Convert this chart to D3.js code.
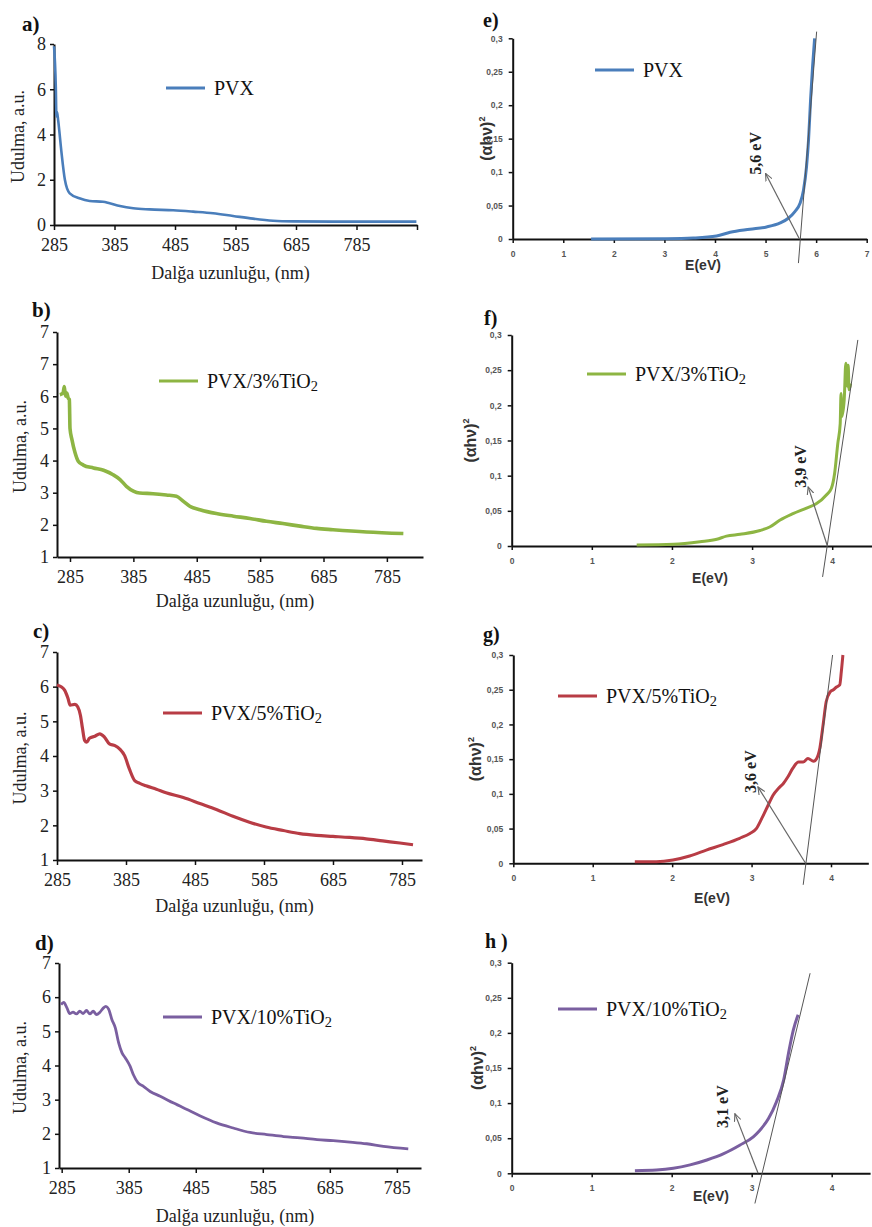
<!DOCTYPE html>
<html>
<head>
<meta charset="utf-8">
<script src="https://cdn.jsdelivr.net/npm/d3@7"></script>
<style>
  body { margin: 0; background: #fff; }
  svg { display: block; background: #fff; }
</style>
</head>
<body>
<script>
// ---- data ----
const sampleNames = ['PVX', 'PVX/3%TiO', 'PVX/5%TiO', 'PVX/10%TiO'];
const sampleSubs = ['', '2', '2', '2'];
const sampleColors = ['#4a7ebb', '#8db543', '#b83c45', '#7a5fa0'];
const uvTicks = [285, 385, 485, 585, 685, 785];

// absorbance spectra (nm, a.u.)
const pvxNm = [285, 288, 289, 290, 292, 297, 303, 311, 327, 344, 366, 377, 394, 416, 443, 482, 515, 548, 581, 614, 647, 680, 746, 884];
const pvxAbs = [7.9, 6.1, 4.8, 5.0, 4.6, 3.3, 2.0, 1.4, 1.18, 1.06, 1.03, 0.96, 0.84, 0.74, 0.69, 0.65, 0.59, 0.52, 0.40, 0.28, 0.19, 0.16, 0.15, 0.15];
const ti3Nm = [269, 274, 276, 278, 280, 282, 284, 285, 288, 293, 298, 306, 322, 338, 353, 364, 374, 385, 395, 416, 437, 453, 464, 474, 490, 516, 543, 569, 595, 621, 648, 674, 700, 753, 811];
const ti3Abs = [6.05, 6.1, 6.3, 6.0, 6.1, 5.95, 5.9, 5.0, 4.66, 4.24, 3.98, 3.86, 3.77, 3.70, 3.56, 3.41, 3.2, 3.05, 2.99, 2.97, 2.93, 2.89, 2.73, 2.58, 2.47, 2.35, 2.27, 2.20, 2.11, 2.04, 1.96, 1.89, 1.85, 1.78, 1.73];
const ti5Nm = [285, 291, 296, 301, 304, 311, 315, 319, 322, 325, 328, 332, 340, 347, 354, 361, 369, 376, 383, 390, 398, 405, 414, 429, 443, 468, 492, 516, 540, 564, 588, 613, 637, 661, 685, 709, 733, 757, 782, 801];
const ti5Abs = [6.05, 6.0, 5.9, 5.66, 5.47, 5.49, 5.42, 5.17, 4.79, 4.45, 4.40, 4.51, 4.57, 4.64, 4.54, 4.35, 4.30, 4.20, 4.01, 3.62, 3.28, 3.21, 3.14, 3.04, 2.94, 2.80, 2.63, 2.46, 2.26, 2.09, 1.95, 1.85, 1.76, 1.71, 1.68, 1.65, 1.61, 1.55, 1.49, 1.44];
const ti10Nm = [284, 288, 293, 297, 302, 307, 312, 317, 322, 327, 332, 337, 342, 347, 351, 355, 360, 365, 370, 375, 380, 387, 392, 399, 407, 417, 432, 452, 472, 491, 516, 541, 566, 591, 616, 641, 666, 690, 715, 740, 765, 802];
const ti10Abs = [5.78, 5.85, 5.68, 5.52, 5.56, 5.51, 5.59, 5.52, 5.61, 5.51, 5.59, 5.49, 5.56, 5.68, 5.73, 5.65, 5.34, 5.10, 4.66, 4.37, 4.22, 3.98, 3.73, 3.49, 3.39, 3.24, 3.10, 2.90, 2.71, 2.53, 2.32, 2.17, 2.04, 1.98, 1.92, 1.88, 1.83, 1.80, 1.76, 1.71, 1.63, 1.56];

// Tauc plots (eV, (ahv)^2)
const pvxE = [1.55, 3.05, 3.57, 4.03, 4.3, 4.69, 5.02, 5.29, 5.45, 5.58, 5.68, 5.75, 5.81, 5.85, 5.89, 5.93, 5.97];
const pvxTauc = [0, 0.0005, 0.0015, 0.0045, 0.010, 0.0145, 0.018, 0.024, 0.031, 0.041, 0.053, 0.073, 0.108, 0.148, 0.208, 0.258, 0.30];
const ti3E = [1.56, 2.02, 2.35, 2.56, 2.68, 2.85, 3.1, 3.22, 3.35, 3.51, 3.68, 3.8, 3.93, 3.99, 4.03, 4.07, 4.10, 4.11, 4.12, 4.15, 4.17, 4.19, 4.2, 4.21, 4.23];
const ti3Tauc = [0.0014, 0.0024, 0.006, 0.0095, 0.014, 0.0166, 0.022, 0.027, 0.037, 0.046, 0.054, 0.060, 0.073, 0.082, 0.103, 0.146, 0.174, 0.217, 0.184, 0.208, 0.26, 0.227, 0.257, 0.222, 0.231];
const ti5E = [1.53, 1.80, 2.01, 2.22, 2.43, 2.64, 2.85, 2.98, 3.06, 3.13, 3.21, 3.27, 3.34, 3.40, 3.46, 3.52, 3.59, 3.65, 3.71, 3.78, 3.82, 3.86, 3.90, 3.94, 3.99, 4.03, 4.07, 4.11, 4.13, 4.15];
const ti5Tauc = [0.0024, 0.0024, 0.0048, 0.0106, 0.019, 0.027, 0.036, 0.043, 0.050, 0.065, 0.084, 0.098, 0.108, 0.115, 0.125, 0.137, 0.146, 0.146, 0.151, 0.147, 0.151, 0.166, 0.199, 0.233, 0.247, 0.25, 0.254, 0.257, 0.276, 0.30];
const ti10E = [1.54, 1.81, 2.02, 2.23, 2.44, 2.65, 2.85, 3.02, 3.10, 3.21, 3.31, 3.40, 3.46, 3.52, 3.58];
const ti10Tauc = [0.0038, 0.0047, 0.0071, 0.012, 0.019, 0.028, 0.040, 0.052, 0.061, 0.078, 0.102, 0.133, 0.171, 0.204, 0.226];

// tangent lines, arrows [E, value] and band gap labels
const tangents = [[[5.65, -0.036], [6.01, 0.31]], [[3.88, -0.044], [4.32, 0.293]], [[3.65, -0.031], [4.02, 0.30]], [[3.04, -0.043], [3.73, 0.285]]];
const arrows = [[[5.67, 0], [5.0, 0.098]], [[3.94, 0], [3.70, 0.084]], [[3.68, 0], [3.08, 0.110]], [[3.08, 0], [2.79, 0.085]]];
const gapLabels = ['5,6 eV', '3,9 eV', '3,6 eV', '3,1 eV'];
const gapLabelPos = [[4.79, 0.128], [3.6, 0.113], [2.98, 0.132], [2.63, 0.095]];
const taucTicks = [0, 0.05, 0.1, 0.15, 0.2, 0.25, 0.3];

const uvX = [pvxNm, ti3Nm, ti5Nm, ti10Nm];
const uvY = [pvxAbs, ti3Abs, ti5Abs, ti10Abs];
const taucX = [pvxE, ti3E, ti5E, ti10E];
const taucY = [pvxTauc, ti3Tauc, ti5Tauc, ti10Tauc];

// ---- layout ----
const uvPanels = [
  {letter: 'a)', lx: 22, ly: 31, left: 54, right: 417, xDom: [285, 885], top: 44, bottom: 225, yDom: [0, 8], yTicks: [0, 2, 4, 6, 8], yLab: null, xEnd: true,
   legX: 166, legY: 88, xlabY: 279, ylabX: 18, curveW: 2.6},
  {letter: 'b)', lx: 32, ly: 317, left: 57, right: 423, xDom: [264.5, 842], top: 332, bottom: 557, yDom: [1, 8], yTicks: [1, 2, 3, 4, 5, 6, 7, 8], yLab: ['1', '2', '3', '4', '5', '6', '7', '7'],
   legX: 159, legY: 381, xlabY: 607, ylabX: 20, curveW: 3.6},
  {letter: 'c)', lx: 33, ly: 638, left: 57, right: 422, xDom: [285, 814], top: 652, bottom: 860, yDom: [1, 7], yTicks: [1, 2, 3, 4, 5, 6, 7], yLab: null,
   legX: 163, legY: 713, xlabY: 912, ylabX: 20, curveW: 3.2},
  {letter: 'd)', lx: 35, ly: 950, left: 59, right: 421, xDom: [281, 821], top: 963, bottom: 1168, yDom: [1, 7], yTicks: [1, 2, 3, 4, 5, 6, 7], yLab: null,
   legX: 163, legY: 1017, xlabY: 1222, ylabX: 20, curveW: 2.8}
];
const taucPanels = [
  {letter: 'e)', lx: 483, ly: 27, left: 512.7, xAt: 866.7, xMax: 7, xTicks: [0, 1, 2, 3, 4, 5, 6, 7], top: 38.3, bottom: 239, legX: 595, legY: 70, xlabX: 703, xlabY: 270, ylabX: 486},
  {letter: 'f)', lx: 484, ly: 325, left: 511.7, xAt: 832.2, xMax: 4.5, xTicks: [0, 1, 2, 3, 4], top: 335, bottom: 546, legX: 587, legY: 374, xlabX: 710, xlabY: 583, ylabX: 470},
  {letter: 'g)', lx: 483, ly: 641, left: 513.3, xAt: 831, xMax: 4.47, xTicks: [0, 1, 2, 3, 4], top: 655, bottom: 863.3, legX: 558, legY: 696, xlabX: 712, xlabY: 903, ylabX: 475},
  {letter: 'h )', lx: 485, ly: 948, left: 511.7, xAt: 831.7, xMax: 4.48, xTicks: [0, 1, 2, 3, 4], top: 962.7, bottom: 1173.3, legX: 558, legY: 1009, xlabX: 711, xlabY: 1201, ylabX: 477}
];

const serif = '"Liberation Serif", "Times New Roman", serif';
const sans = '"Liberation Sans", Arial, sans-serif';

const svg = d3.select('body').append('svg').attr('width', 872).attr('height', 1227);
svg.append('defs').append('marker')
  .attr('id', 'arr').attr('viewBox', '0 0 10 10').attr('refX', 9).attr('refY', 5)
  .attr('markerWidth', 7).attr('markerHeight', 7).attr('orient', 'auto')
  .append('path').attr('d', 'M0,1 L9,5 L0,9').attr('fill', 'none').attr('stroke', '#666').attr('stroke-width', 1.3);

function legend(g, x, y, i, size) {
  g.append('line').attr('x1', x).attr('x2', x + 39).attr('y1', y).attr('y2', y)
    .attr('stroke', sampleColors[i]).attr('stroke-width', 3);
  const t = g.append('text').attr('x', x + 48).attr('y', y + 7)
    .attr('font-family', serif).attr('font-size', size).attr('fill', '#111').text(sampleNames[i]);
  if (sampleSubs[i]) t.append('tspan').attr('font-size', size * 0.72).attr('dy', 3).text(sampleSubs[i]);
}

uvPanels.forEach((p, i) => {
  const g = svg.append('g');
  const x = d3.scaleLinear().domain(p.xDom).range([p.left, p.right]);
  const y = d3.scaleLinear().domain(p.yDom).range([p.bottom, p.top]);
  const xt = p.xEnd ? uvTicks.concat([885]) : uvTicks;
  const xa = g.append('g').attr('transform', `translate(0,${p.bottom})`)
    .call(d3.axisBottom(x).tickValues(xt).tickSize(5).tickSizeOuter(0).tickPadding(8)
      .tickFormat(d => d === 885 ? '' : d));
  const ya = g.append('g').attr('transform', `translate(${p.left},0)`)
    .call(d3.axisLeft(y).tickValues(p.yTicks).tickSize(4).tickSizeOuter(0).tickPadding(4)
      .tickFormat((d, k) => p.yLab ? p.yLab[k] : d));
  [xa, ya].forEach(a => {
    a.select('.domain').attr('stroke', '#111').attr('stroke-width', 2);
    a.selectAll('.tick line').attr('stroke', '#111').attr('stroke-width', 1.5);
    a.selectAll('.tick text').attr('font-family', serif).attr('font-size', 18).attr('fill', '#222');
  });
  const pts = uvX[i].map((v, k) => [v, uvY[i][k]]);
  g.append('path').datum(pts)
    .attr('fill', 'none').attr('stroke', sampleColors[i]).attr('stroke-width', p.curveW)
    .attr('stroke-linejoin', 'round')
    .attr('d', d3.line().x(d => x(d[0])).y(d => y(d[1])).curve(d3.curveMonotoneX));
  g.append('text').attr('x', p.lx).attr('y', p.ly).attr('font-family', serif)
    .attr('font-weight', 'bold').attr('font-size', 21).attr('fill', '#111').text(p.letter);
  g.append('text').attr('x', (p.left + p.right) / 2 - 5).attr('y', p.xlabY).attr('text-anchor', 'middle')
    .attr('font-family', serif).attr('font-size', 18).attr('fill', '#222').text('Dalğa uzunluğu, (nm)');
  g.append('text').attr('transform', `translate(${p.ylabX},${(p.top + p.bottom) / 2 + 2}) rotate(-90)`)
    .attr('text-anchor', 'middle').attr('dy', '0.35em')
    .attr('font-family', serif).attr('font-size', 18).attr('fill', '#222').text('Udulma, a.u.');
  legend(g, p.legX, p.legY, i, 20);
});

taucPanels.forEach((p, i) => {
  const g = svg.append('g');
  const x = d3.scaleLinear().domain([0, p.xTicks[p.xTicks.length - 1]]).range([p.left, p.xAt]);
  const y = d3.scaleLinear().domain([0, 0.3]).range([p.bottom, p.top]);
  const xAxisScale = d3.scaleLinear().domain([0, p.xMax]).range([p.left, x(p.xMax)]);
  const xa = g.append('g').attr('transform', `translate(0,${p.bottom})`)
    .call(d3.axisBottom(xAxisScale).tickValues(p.xTicks)
      .tickSize(4).tickSizeOuter(0).tickPadding(8).tickFormat(d3.format('d')));
  const ya = g.append('g').attr('transform', `translate(${p.left},0)`)
    .call(d3.axisLeft(y).tickValues(taucTicks).tickSize(4).tickSizeOuter(0).tickPadding(6)
      .tickFormat(d => String(+d.toFixed(2)).replace('.', ',')));
  [xa, ya].forEach(a => {
    a.select('.domain').attr('stroke', '#111').attr('stroke-width', 2);
    a.selectAll('.tick line').attr('stroke', '#111').attr('stroke-width', 1.5);
    a.selectAll('.tick text').attr('font-family', sans).attr('font-weight', 'bold')
      .attr('font-size', 8.5).attr('fill', '#555');
  });
  const pts = taucX[i].map((v, k) => [v, taucY[i][k]]);
  g.append('path').datum(pts)
    .attr('fill', 'none').attr('stroke', sampleColors[i]).attr('stroke-width', 3)
    .attr('stroke-linejoin', 'round')
    .attr('d', d3.line().x(d => x(d[0])).y(d => y(d[1])).curve(d3.curveMonotoneX));
  const tg = tangents[i];
  g.append('line').attr('x1', x(tg[0][0])).attr('y1', y(tg[0][1])).attr('x2', x(tg[1][0])).attr('y2', y(tg[1][1]))
    .attr('stroke', '#555').attr('stroke-width', 1);
  const ar = arrows[i];
  g.append('line').attr('x1', x(ar[0][0])).attr('y1', y(ar[0][1])).attr('x2', x(ar[1][0])).attr('y2', y(ar[1][1]))
    .attr('stroke', '#666').attr('stroke-width', 1.2).attr('marker-end', 'url(#arr)');
  const lp = gapLabelPos[i];
  g.append('text').attr('transform', `translate(${x(lp[0])},${y(lp[1])}) rotate(-90)`)
    .attr('text-anchor', 'middle').attr('dy', '0.35em')
    .attr('font-family', serif).attr('font-weight', 'bold').attr('font-size', 16).attr('fill', '#222')
    .text(gapLabels[i]);
  g.append('text').attr('x', p.lx).attr('y', p.ly).attr('font-family', serif)
    .attr('font-weight', 'bold').attr('font-size', 20).attr('fill', '#111').text(p.letter);
  g.append('text').attr('x', p.xlabX).attr('y', p.xlabY).attr('text-anchor', 'middle')
    .attr('font-family', sans).attr('font-weight', 'bold').attr('font-size', 14).attr('fill', '#333').text('E(eV)');
  const yl = g.append('text').attr('transform', `translate(${p.ylabX},${(p.top + p.bottom) / 2}) rotate(-90)`)
    .attr('text-anchor', 'middle').attr('dy', '0.35em')
    .attr('font-family', sans).attr('font-weight', 'bold').attr('font-size', 16).attr('fill', '#333').text('(αhν)');
  yl.append('tspan').attr('font-size', 9).attr('dy', -7).text('2');
  legend(g, p.legX, p.legY, i, 20);
});
</script>
</body>
</html>
